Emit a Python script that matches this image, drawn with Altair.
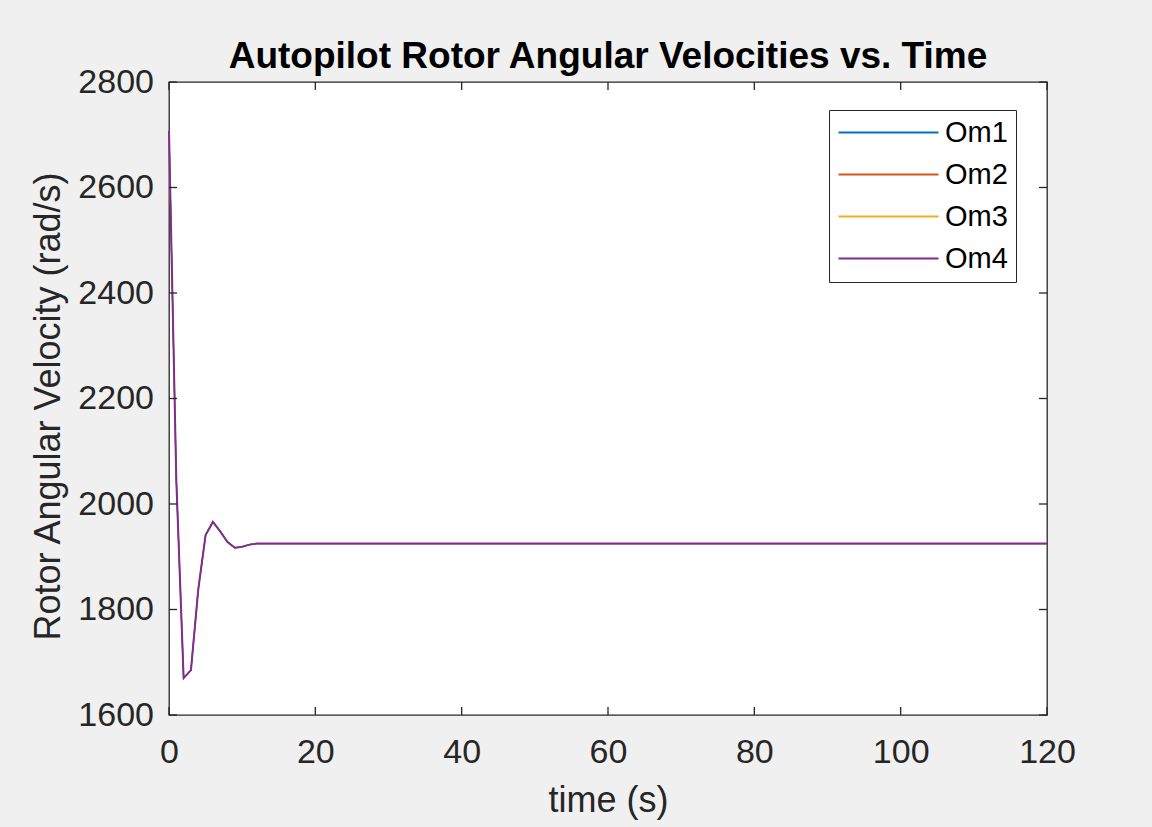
import altair as alt
import pandas as pd

# Rotor speed response (rad/s) of the autopilot, sampled in seconds
time_s = [0, 1, 2, 3, 4, 5, 6, 7, 8, 9, 10, 11, 12, 15, 20, 40, 60, 80, 100, 120]
omega = [2707, 2045, 1670, 1685, 1838, 1941, 1966, 1948, 1928, 1917, 1919,
         1923, 1925, 1925, 1925, 1925, 1925, 1925, 1925, 1925]
series = ["Om1", "Om2", "Om3", "Om4"]
colors = ["#0072BD", "#D95319", "#EDB120", "#7E2F8E"]

x_ticks = [0, 20, 40, 60, 80, 100, 120]
y_ticks = [1600, 1800, 2000, 2200, 2400, 2600, 2800]

W, H = 878, 633
FONT = "Liberation Sans"
INK = "#262626"
TICK = 8

rows = []
for name in series:
    for t, w in zip(time_s, omega):
        rows.append({"t": t, "omega": w, "rotor": name})
df = pd.DataFrame(rows)

x_scale = alt.Scale(domain=[0, 120], nice=False)
y_scale = alt.Scale(domain=[1600, 2800], nice=False)

x_enc = alt.X("t:Q", scale=x_scale,
              axis=alt.Axis(values=x_ticks, title="time (s)", grid=False,
                            domain=False, ticks=False, tickSize=0,
                            labelBaseline="alphabetic", labelPadding=47.5,
                            labelFontSize=34, labelFont=FONT, labelColor=INK,
                            labelFlush=False, titleFontSize=36, titleFont=FONT,
                            titleColor=INK, titleFontWeight="normal",
                            titleBaseline="alphabetic", titleX=439, titleY=96))
y_enc = alt.Y("omega:Q", scale=y_scale,
              axis=alt.Axis(values=y_ticks, format="d",
                            title="Rotor Angular Velocity (rad/s)",
                            grid=False, domain=False, ticks=False, tickSize=0,
                            labelPadding=15.5, labelFontSize=34, labelFont=FONT,
                            labelColor=INK, labelFlush=False, titleFontSize=36,
                            titleFont=FONT, titleColor=INK,
                            titleFontWeight="normal", titleBaseline="alphabetic",
                            titleAlign="center", titleX=-110, titleY=324))

# horizontal line segment used as the legend key (scaled by symbolSize)
key_path = "M-5,0H5"
color_enc = alt.Color(
    "rotor:N", scale=alt.Scale(domain=series, range=colors),
    legend=alt.Legend(title=None, orient="none", legendX=660, legendY=28,
                      symbolType=key_path, symbolSize=400,
                      symbolStrokeWidth=2, symbolOffset=37,
                      labelFontSize=29, labelFont=FONT, labelColor="#000000",
                      labelOffset=42, rowPadding=12, padding=8,
                      strokeColor=INK, fillColor="white"),
)

# Om1-Om3 first (slightly thinner), Om4 on top
under = alt.Chart(df).transform_filter(alt.datum.rotor != "Om4").mark_line(
    strokeWidth=1.2).encode(x=x_enc, y=y_enc, color=color_enc, order=alt.Order("t:Q"))
over = alt.Chart(df).transform_filter(alt.datum.rotor == "Om4").mark_line(
    strokeWidth=2).encode(x=x_enc, y=y_enc, color=color_enc, order=alt.Order("t:Q"))

xt = pd.DataFrame({"v": x_ticks})
yt = pd.DataFrame({"v": y_ticks})
tick_style = dict(color=INK, strokeWidth=1.3)

bottom_ticks = alt.Chart(xt).mark_rule(**tick_style).encode(
    x=alt.X("v:Q", scale=x_scale), y=alt.value(H), y2=alt.value(H - TICK))
top_ticks = alt.Chart(xt).mark_rule(**tick_style).encode(
    x=alt.X("v:Q", scale=x_scale), y=alt.value(0), y2=alt.value(TICK))
left_ticks = alt.Chart(yt).mark_rule(**tick_style).encode(
    y=alt.Y("v:Q", scale=y_scale), x=alt.value(0), x2=alt.value(TICK))
right_ticks = alt.Chart(yt).mark_rule(**tick_style).encode(
    y=alt.Y("v:Q", scale=y_scale), x=alt.value(W), x2=alt.value(W - TICK))

chart = alt.layer(under, over, bottom_ticks, top_ticks, left_ticks, right_ticks).properties(
    width=W,
    height=H,
    title=alt.Title("Autopilot Rotor Angular Velocities vs. Time",
                    font=FONT, fontSize=37, fontWeight="bold", color="#000000",
                    anchor="middle", offset=-11),
    background="#f0f0f0",
    padding={"left": 169, "top": 82, "right": 105, "bottom": 112},
    autosize=alt.AutoSizeParams(type="none"),
).configure_view(
    fill="white", stroke=INK, strokeWidth=1.3
)

chart.save("out.html", embed_options={"renderer": "svg", "actions": False})
